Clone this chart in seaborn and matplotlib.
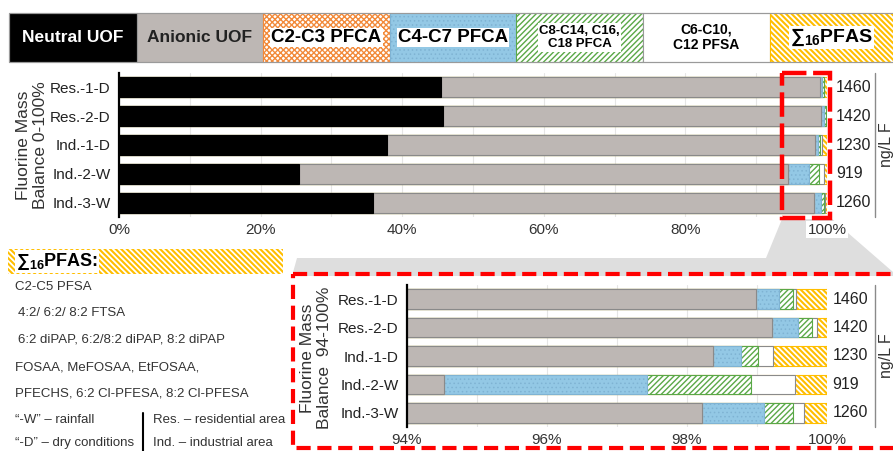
import numpy as np
import pandas as pd
import matplotlib
matplotlib.use("Agg")
import matplotlib.pyplot as plt
import matplotlib.transforms as mtransforms
from matplotlib.patches import Rectangle, Polygon
import seaborn as sns

# ---- data -------------------------------------------------------------
samples = ["Res.-1-D", "Res.-2-D", "Ind.-1-D", "Ind.-2-W", "Ind.-3-W"]
neutral_uof = [45.5, 45.8, 37.8, 25.4, 35.9]
anionic_uof = [53.48, 53.41, 60.57, 69.13, 62.31]
c2_c3_pfca = [0.0, 0.0, 0.0, 0.0, 0.0]
c4_c7_pfca = [0.33, 0.38, 0.40, 2.90, 0.89]
c8_c18_pfca = [0.20, 0.20, 0.24, 1.48, 0.41]
c6_c12_pfsa = [0.05, 0.07, 0.22, 0.63, 0.16]
sum16_pfas = [0.44, 0.14, 0.77, 0.46, 0.33]
total_f = [1460, 1420, 1230, 919, 1260]

full_ticks = [0, 20, 40, 60, 80, 100]
zoom_ticks = [94, 96, 98, 100]

# ---- styling ------------------------------------------------------------
sns.set_theme(style="white")
plt.rcParams["font.family"] = ["Liberation Sans", "DejaVu Sans"]
plt.rcParams["mathtext.fontset"] = "custom"
plt.rcParams["mathtext.rm"] = "Liberation Sans"
plt.rcParams["mathtext.bf"] = "Liberation Sans:bold"

SUM_HATCH = "\\" * 6

layers = [
    ("Neutral UOF", neutral_uof, dict(face="#000000", edge="#000000", hatch=None, hlw=1.0)),
    ("Anionic UOF", anionic_uof, dict(face="#bdb7b4", edge="#8a8a8a", hatch=None, hlw=1.0)),
    ("C2-C3 PFCA", c2_c3_pfca, dict(face="#ffffff", edge="#f28a3a", hatch="xxxxxx", hlw=1.0)),
    ("C4-C7 PFCA", c4_c7_pfca, dict(face="#93c8e5", edge="#7fb3d3", hatch="....", hlw=0.6)),
    ("C8-C14, C16,\nC18 PFCA", c8_c18_pfca, dict(face="#ffffff", edge="#5aa847", hatch="//////", hlw=1.0)),
    ("C6-C10,\nC12 PFSA", c6_c12_pfsa, dict(face="#ffffff", edge="#8a8a8a", hatch=None, hlw=1.0)),
    ("∑$_\\mathbf{16}$PFAS", sum16_pfas, dict(face="#ffffff", edge="#ffbe00", hatch=SUM_HATCH, hlw=1.5)),
]

df = pd.DataFrame({name: vals for name, vals, _ in layers}, index=samples)
cum = df.cumsum(axis=1)

W, H = 893, 451
fig = plt.figure(figsize=(W / 100, H / 100), dpi=100)


def rect(x0, y0, x1, y1):
    return [x0 / W, 1 - y1 / H, (x1 - x0) / W, (y1 - y0) / H]


# background canvas in pixel units (legend strip, callout, notes)
ax_bg = fig.add_axes([0, 0, 1, 1])
ax_bg.set_xlim(0, W)
ax_bg.set_ylim(H, 0)
ax_bg.axis("off")


def draw_stack(ax, xlim, ticks, grid_step):
    # stacked bars drawn as cumulative totals, outermost segment first
    for name, _, st in reversed(layers):
        with plt.rc_context({"hatch.linewidth": st["hlw"]}):
            sns.barplot(x=cum[name].values, y=samples, order=samples, orient="h",
                        color=st["face"], saturation=1, width=0.69, errorbar=None,
                        edgecolor=st["edge"], linewidth=0.8, hatch=st["hatch"], ax=ax)
    ax.set_xlim(*xlim)
    ax.set_ylim(4.5, -0.5)
    for g in np.arange(xlim[0], xlim[1] + 1e-9, grid_step):
        ax.axvline(g, color="#e6e6e6", lw=0.8, zorder=0)
    ax.set_axisbelow(True)
    ax.set_xticks(ticks)
    ax.set_xticklabels([f"{t}%" for t in ticks], fontsize=11, color="#333333")
    ax.tick_params(axis="y", labelsize=11, labelcolor="#222222", length=0, pad=6)
    ax.tick_params(axis="x", length=0, pad=4)
    ax.set_xlabel("")
    ax.set_ylabel("")
    for s in ["top", "right", "bottom"]:
        ax.spines[s].set_visible(False)
    ax.spines["left"].set_color("#000000")
    ax.spines["left"].set_linewidth(1.6)
    trans = mtransforms.blended_transform_factory(ax.transAxes, ax.transData)
    for i, v in enumerate(total_f):
        ax.text(1.013, i, f"{v}", transform=trans, ha="left", va="center",
                fontsize=11.5, color="#222222")


ax_top = fig.add_axes(rect(119, 73, 827, 217))
draw_stack(ax_top, (0, 100), full_ticks, 10)
ax_top.get_xticklabels()[-1].set_bbox(dict(facecolor="white", edgecolor="none", pad=1))

ax_bot = fig.add_axes(rect(407, 285, 827, 427))
draw_stack(ax_bot, (94, 100), zoom_ticks, 1)

# ---- legend strip ------------------------------------------------------
cell_x = [9, 137, 263, 390, 516, 643, 770, 897]
cell_text = [
    dict(color="white", size=12.5, box=False),
    dict(color="#222222", size=12.5, box=False),
    dict(color="black", size=13.5, box=True),
    dict(color="black", size=13.5, box=True),
    dict(color="black", size=9.5, box=True),
    dict(color="black", size=10, box=False),
    dict(color="black", size=14, box=True),
]
for k, (name, _, st) in enumerate(layers):
    x0, x1 = cell_x[k], cell_x[k + 1]
    with plt.rc_context({"hatch.linewidth": st["hlw"]}):
        ax_bg.add_patch(Rectangle((x0, 13), x1 - x0, 49, facecolor=st["face"],
                                  edgecolor=st["edge"] if st["hatch"] else "#9a9a9a",
                                  hatch=st["hatch"], lw=0.8))
    tp = cell_text[k]
    bbox = dict(facecolor="white", edgecolor="none", pad=1.0) if tp["box"] else None
    ax_bg.text((x0 + min(x1, W)) / 2, 37.5, name, ha="center", va="center",
               fontsize=tp["size"], fontweight="bold", color=tp["color"],
               linespacing=1.15, bbox=bbox)
ax_bg.add_patch(Rectangle((9, 13), W - 9 + 5, 49, fill=False, edgecolor="#9a9a9a", lw=0.8))

# ---- axis titles and units ------------------------------------------------
ax_bg.text(32, 145, "Fluorine Mass\nBalance 0-100%", rotation=90, ha="center",
           va="center", fontsize=12.5, color="#333333", linespacing=1.1)
ax_bg.text(316, 358, "Fluorine Mass\nBalance  94-100%", rotation=90, ha="center",
           va="center", fontsize=12.5, color="#333333", linespacing=1.1)
for (y0, y1) in [(73, 217), (285, 427)]:
    ax_bg.plot([875, 875], [y0, y1], color="#8a8a8a", lw=1)
    ax_bg.text(887, (y0 + y1) / 2, "ng/L F", rotation=90, ha="center",
               va="center", fontsize=11.5, color="#333333")

# ---- callout from the 94-100% window to the zoomed chart ---------------
ax_bg.add_patch(Polygon([(782, 219), (832, 219), (893, 272), (893, 276),
                         (292, 276), (297, 258), (766, 258)],
                        closed=True, facecolor="#dedede", edgecolor="none", zorder=0))

# ---- notes panel ----------------------------------------------------------
with plt.rc_context({"hatch.linewidth": 1.5}):
    ax_bg.add_patch(Rectangle((8, 249), 275, 25, facecolor="#ffffff",
                              edgecolor="#ffbe00", hatch=SUM_HATCH, lw=0.0))
ax_bg.text(16, 261.5, "∑$_\\mathbf{16}$PFAS:", ha="left", va="center", fontsize=13,
           fontweight="bold", color="black",
           bbox=dict(facecolor="white", edgecolor="none", pad=0.8))
notes = [
    (15, 287, "C2-C5 PFSA"),
    (18, 313, "4:2/ 6:2/ 8:2 FTSA"),
    (18, 340, "6:2 diPAP, 6:2/8:2 diPAP, 8:2 diPAP"),
    (15, 367, "FOSAA, MeFOSAA, EtFOSAA,"),
    (15, 394, "PFECHS, 6:2 Cl-PFESA, 8:2 Cl-PFESA"),
    (15, 420, "“-W” – rainfall"),
    (15, 443, "“-D” – dry conditions"),
    (153, 420, "Res. – residential area"),
    (153, 443, "Ind. – industrial area"),
]
for x, y, s in notes:
    ax_bg.text(x, y, s, ha="left", va="center", fontsize=9.5, color="#333333")
ax_bg.plot([143, 143], [413, 451], color="black", lw=1.5)

# ---- red dashed frames ------------------------------------------------------
ax_ov = fig.add_axes([0, 0, 1, 1], zorder=10)
ax_ov.set_xlim(0, W)
ax_ov.set_ylim(H, 0)
ax_ov.axis("off")
ax_ov.patch.set_alpha(0)
ax_ov.add_patch(Rectangle((782, 73), 48, 145, fill=False, edgecolor="#ff0000",
                          lw=3.2, linestyle=(0, (5.5, 1.5))))
ax_ov.add_patch(Rectangle((293, 274), 620, 174, fill=False, edgecolor="#ff0000",
                          lw=3.0, linestyle=(0, (3.4, 1.6))))

fig.savefig("out.png", dpi=100)
